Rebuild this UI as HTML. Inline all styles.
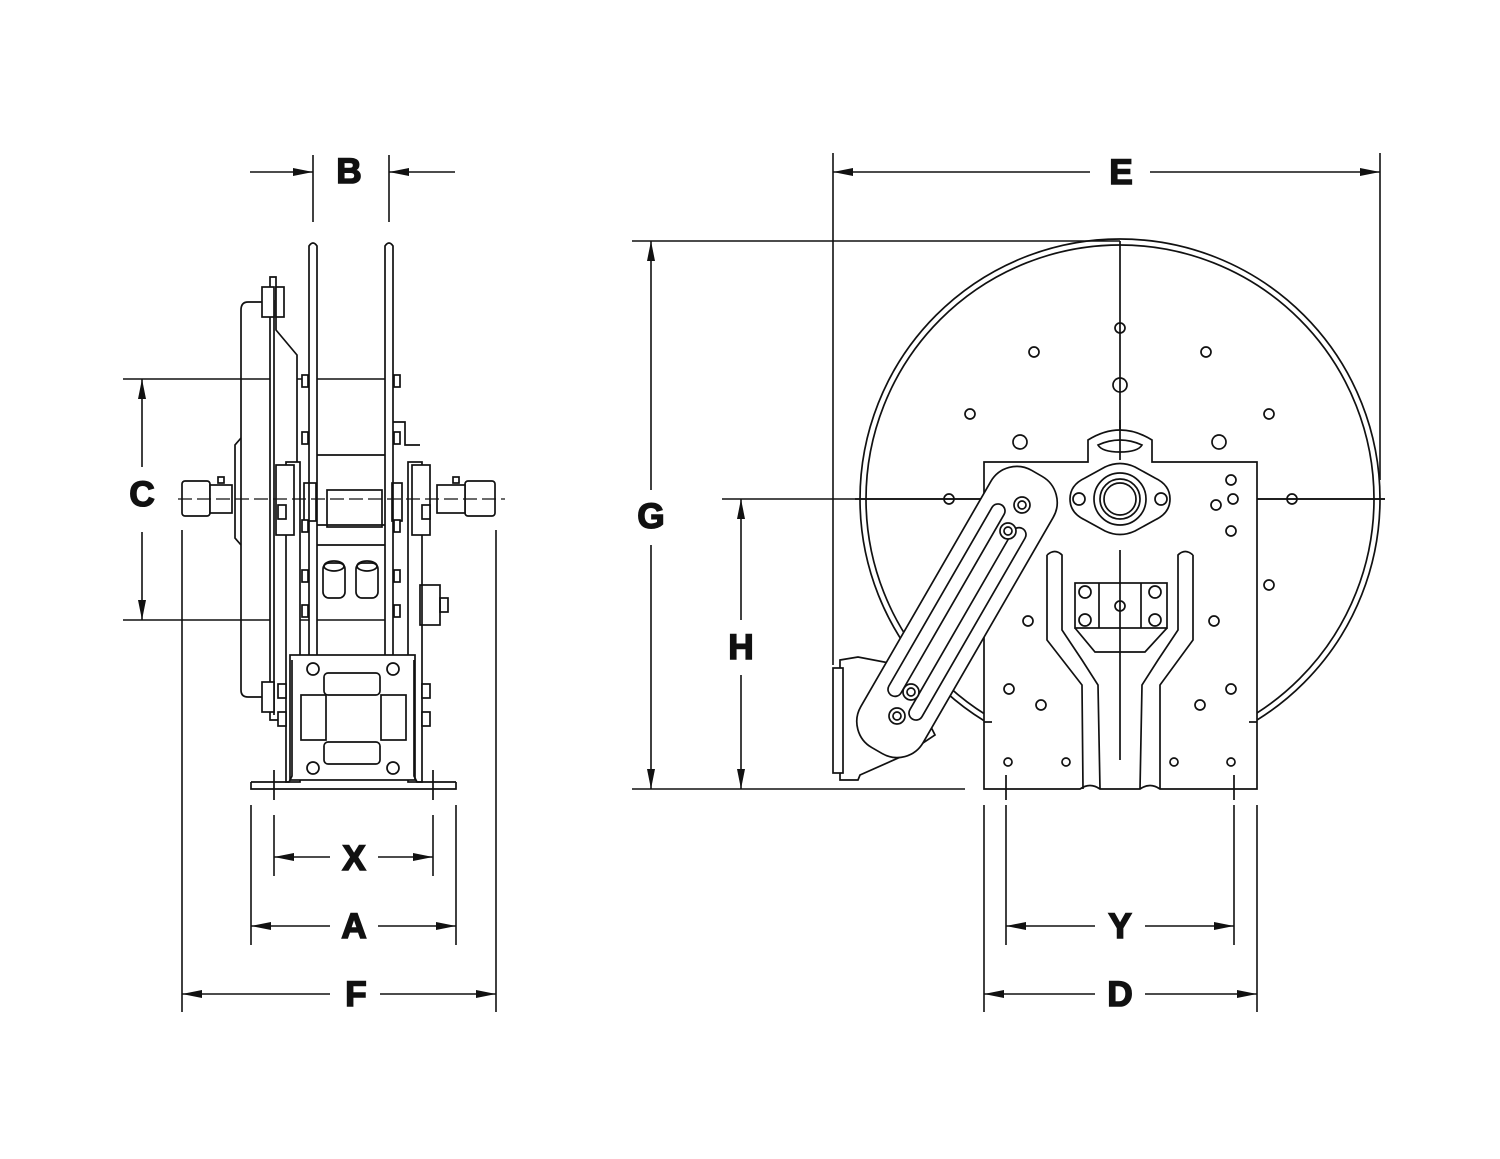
<!DOCTYPE html>
<html><head><style>
html,body{margin:0;padding:0;background:#fff}
svg{display:block}
.l{stroke:#111;stroke-width:1.6;fill:none}
.t{stroke:#111;stroke-width:1.7;fill:none}
.w{fill:#fff;stroke:#111;stroke-width:1.7}
.d{stroke:#111;stroke-width:1.2;fill:none;stroke-dasharray:14 5}
text{font-family:"Liberation Sans",sans-serif;font-weight:bold;font-size:35px;fill:#111;stroke:#111;stroke-width:1.6;text-anchor:middle}
</style></head><body>
<svg width="1500" height="1159" viewBox="0 0 1500 1159" xmlns="http://www.w3.org/2000/svg">
<defs>
<marker id="a" viewBox="0 0 20 10" refX="20" refY="5" markerWidth="20" markerHeight="10" markerUnits="userSpaceOnUse" orient="auto"><path d="M0,1 L20,5 L0,9 z" fill="#111"/></marker>
</defs>

<g class="l">
<line x1="313" y1="155" x2="313" y2="222"/><line x1="389" y1="155" x2="389" y2="222"/>
<line x1="250" y1="172" x2="313" y2="172" marker-end="url(#a)"/>
<line x1="455" y1="172" x2="389" y2="172" marker-end="url(#a)"/>
<line x1="833" y1="153" x2="833" y2="665"/><line x1="1380" y1="153" x2="1380" y2="480"/>
<line x1="1090" y1="172" x2="833" y2="172" marker-end="url(#a)"/>
<line x1="1150" y1="172" x2="1380" y2="172" marker-end="url(#a)"/>
<line x1="632" y1="241" x2="1120" y2="241"/><line x1="632" y1="789" x2="965" y2="789"/>
<line x1="651" y1="490" x2="651" y2="241" marker-end="url(#a)"/>
<line x1="651" y1="545" x2="651" y2="789" marker-end="url(#a)"/>
<line x1="722" y1="499" x2="1385" y2="499"/>
<line x1="741" y1="620" x2="741" y2="499" marker-end="url(#a)"/>
<line x1="741" y1="675" x2="741" y2="789" marker-end="url(#a)"/>
<line x1="123" y1="379" x2="390" y2="379"/><line x1="123" y1="620" x2="390" y2="620"/>
<line x1="142" y1="467" x2="142" y2="379" marker-end="url(#a)"/>
<line x1="142" y1="532" x2="142" y2="620" marker-end="url(#a)"/>
<line x1="274" y1="815" x2="274" y2="876"/><line x1="433" y1="815" x2="433" y2="876"/>
<line x1="330" y1="857" x2="274" y2="857" marker-end="url(#a)"/>
<line x1="378" y1="857" x2="433" y2="857" marker-end="url(#a)"/>
<line x1="251" y1="805" x2="251" y2="945"/><line x1="456" y1="805" x2="456" y2="945"/>
<line x1="330" y1="926" x2="251" y2="926" marker-end="url(#a)"/>
<line x1="378" y1="926" x2="456" y2="926" marker-end="url(#a)"/>
<line x1="182" y1="530" x2="182" y2="1012"/><line x1="496" y1="530" x2="496" y2="1012"/>
<line x1="330" y1="994" x2="182" y2="994" marker-end="url(#a)"/>
<line x1="380" y1="994" x2="496" y2="994" marker-end="url(#a)"/>
<line x1="1006" y1="805" x2="1006" y2="945"/><line x1="1234" y1="805" x2="1234" y2="945"/>
<line x1="1095" y1="926" x2="1006" y2="926" marker-end="url(#a)"/>
<line x1="1145" y1="926" x2="1234" y2="926" marker-end="url(#a)"/>
<line x1="984" y1="805" x2="984" y2="1012"/><line x1="1257" y1="805" x2="1257" y2="1012"/>
<line x1="1095" y1="994" x2="984" y2="994" marker-end="url(#a)"/>
<line x1="1145" y1="994" x2="1257" y2="994" marker-end="url(#a)"/>
</g>
<text x="349" y="183">B</text>
<text x="1121" y="184">E</text>
<text x="651" y="528">G</text>
<text x="741" y="659">H</text>
<text x="142" y="506">C</text>
<text x="354" y="870">X</text>
<text x="354" y="938">A</text>
<text x="356" y="1006">F</text>
<text x="1120" y="938">Y</text>
<text x="1120" y="1006">D</text>

<g class="t">
<path d="M270,302 L248,302 Q241,302 241,310 L241,690 Q241,697 248,697 L270,697"/>
<path d="M241,438 L235,445 L235,538 L241,545"/>
<path class="w" d="M270,277 L276,277 L276,330 L297,355 L297,720 L270,720 Z"/>
<line x1="274" y1="300" x2="274" y2="715"/>
<rect class="w" x="262" y="287" width="12" height="30"/>
<rect class="w" x="276" y="287" width="8" height="30"/>
<rect class="w" x="262" y="682" width="12" height="30"/>
<path class="w" d="M309,660 L309,246 Q313,240 317,246 L317,660 Z"/>
<path class="w" d="M385,660 L385,246 Q389,240 393,246 L393,660 Z"/>
<rect class="w" x="286" y="462" width="14" height="320"/>
<rect class="w" x="408" y="462" width="14" height="320"/>
<rect class="w" x="276" y="465" width="18" height="70"/>
<rect class="w" x="412" y="465" width="18" height="70"/>
<line x1="317" y1="455" x2="385" y2="455"/>
<line x1="317" y1="525" x2="385" y2="525"/>
<line x1="317" y1="545" x2="385" y2="545"/>
<rect x="327" y="490" width="55" height="37"/>
<rect class="w" x="323" y="563" width="22" height="35" rx="6"/>
<rect class="w" x="356" y="563" width="22" height="35" rx="6"/>
<ellipse cx="334" cy="566" rx="10" ry="5"/><ellipse cx="367" cy="566" rx="10" ry="5"/>
<rect x="304" y="483" width="12" height="38"/>
<rect x="392" y="483" width="10" height="38"/>
<path d="M393,422 L405,422 L405,445 L420,445"/>
<rect x="420" y="585" width="20" height="40"/>
<rect x="440" y="598" width="8" height="14"/>
<rect class="w" x="182" y="481" width="28" height="35" rx="3"/>
<rect class="w" x="210" y="485" width="22" height="28"/>
<rect class="w" x="218" y="477" width="6" height="6"/>
<rect class="w" x="465" y="481" width="30" height="35" rx="3"/>
<rect class="w" x="437" y="485" width="28" height="28"/>
<rect class="w" x="453" y="477" width="6" height="6"/>
<g class="w">
<rect x="302" y="375" width="6" height="12"/><rect x="302" y="432" width="6" height="12"/><rect x="302" y="520" width="6" height="12"/><rect x="302" y="570" width="6" height="12"/><rect x="302" y="605" width="6" height="12"/>
<rect x="394" y="375" width="6" height="12"/><rect x="394" y="432" width="6" height="12"/><rect x="394" y="520" width="6" height="12"/><rect x="394" y="570" width="6" height="12"/><rect x="394" y="605" width="6" height="12"/>
<rect x="278" y="505" width="8" height="14"/><rect x="422" y="505" width="8" height="14"/>
<rect x="278" y="684" width="8" height="14"/><rect x="422" y="684" width="8" height="14"/>
<rect x="278" y="712" width="8" height="14"/><rect x="422" y="712" width="8" height="14"/>
</g>
<rect class="w" x="290" y="655" width="125" height="125"/>
<path d="M251,782 L289,782 L292,776 L292,660 M456,782 L417,782 L414,776 L414,660"/>
<path d="M251,782 L251,789 L456,789 L456,782"/>
<rect x="324" y="673" width="56" height="22" rx="4"/>
<rect x="324" y="742" width="56" height="22" rx="4"/>
<rect x="301" y="695" width="25" height="45"/>
<rect x="381" y="695" width="25" height="45"/>
<circle class="w" cx="313" cy="669" r="6"/><circle class="w" cx="393" cy="669" r="6"/>
<circle class="w" cx="313" cy="768" r="6"/><circle class="w" cx="393" cy="768" r="6"/>
<line x1="274" y1="770" x2="274" y2="800"/><line x1="433" y1="770" x2="433" y2="800"/>
</g>
<line class="d" x1="178" y1="499" x2="505" y2="499"/>

<g class="t">
<circle cx="1120" cy="499" r="260"/>
<circle cx="1120" cy="499" r="254"/>
<line x1="1120" y1="241" x2="1120" y2="440"/>
<line x1="855" y1="499" x2="1385" y2="499"/>
<path class="w" d="M984,462 L1088,462 L1088,440 Q1120,420 1152,440 L1152,462 L1257,462 L1257,789 L1160,789 Q1150,782 1140,789 L1100,789 Q1090,782 1080,789 L984,789 Z"/>
<line x1="1120" y1="420" x2="1120" y2="460"/>
<path d="M1098,445 Q1120,435 1142,445 Q1138,452 1120,452 Q1102,452 1098,445 Z"/>
<path class="w" d="M1070,499 Q1070,485 1085,478 L1105,467 Q1120,460 1135,467 L1155,478 Q1170,485 1170,499 Q1170,513 1155,520 L1135,531 Q1120,538 1105,531 L1085,520 Q1070,513 1070,499 Z"/>
<circle cx="1120" cy="499" r="26"/><circle cx="1120" cy="499" r="20"/><circle cx="1120" cy="499" r="16"/>
<circle cx="1079" cy="499" r="6"/><circle cx="1161" cy="499" r="6"/>
<path d="M1047,555 Q1055,548 1062,555 L1062,630 L1082,660 L1098,685 L1100,789 M1047,555 L1047,640 L1082,685 L1083,789 M1193,555 Q1185,548 1178,555 L1178,630 L1158,660 L1142,685 L1140,789 M1193,555 L1193,640 L1160,685 L1160,789"/>
<rect class="w" x="1075" y="583" width="92" height="45"/>
<line x1="1099" y1="583" x2="1099" y2="628"/><line x1="1141" y1="583" x2="1141" y2="628"/>
<path d="M1075,628 L1095,652 L1145,652 L1167,628"/>
<line x1="1120" y1="550" x2="1120" y2="760"/>
<circle cx="1120" cy="606" r="5"/>
<circle cx="1085" cy="592" r="6"/><circle cx="1085" cy="620" r="6"/><circle cx="1155" cy="592" r="6"/><circle cx="1155" cy="620" r="6"/>
<circle cx="1120" cy="328" r="5"/><circle cx="1034" cy="352" r="5"/><circle cx="1206" cy="352" r="5"/>
<circle cx="970" cy="414" r="5"/><circle cx="1269" cy="414" r="5"/>
<circle cx="1120" cy="385" r="7"/><circle cx="1020" cy="442" r="7"/><circle cx="1219" cy="442" r="7"/>
<circle cx="949" cy="499" r="5"/><circle cx="1292" cy="499" r="5"/><circle cx="1269" cy="585" r="5"/>
<circle cx="1231" cy="480" r="5"/><circle cx="1233" cy="499" r="5"/><circle cx="1216" cy="505" r="5"/><circle cx="1231" cy="531" r="5"/>
<circle cx="1028" cy="621" r="5"/><circle cx="1214" cy="621" r="5"/>
<circle cx="1009" cy="689" r="5"/><circle cx="1041" cy="705" r="5"/><circle cx="1200" cy="705" r="5"/><circle cx="1231" cy="689" r="5"/>
<circle cx="1008" cy="762" r="4"/><circle cx="1066" cy="762" r="4"/><circle cx="1174" cy="762" r="4"/><circle cx="1231" cy="762" r="4"/>
<line x1="1006" y1="775" x2="1006" y2="800"/><line x1="1234" y1="775" x2="1234" y2="800"/>
<line x1="984" y1="722" x2="992" y2="722"/><line x1="1257" y1="722" x2="1249" y2="722"/>
<path class="w" d="M840,660 L858,657 L900,665 L935,735 L905,755 L860,775 L858,780 L840,780 Z"/>
<rect class="w" x="833" y="668" width="10" height="105"/>
<g transform="translate(957,612) rotate(-60)">
<rect class="w" x="-160" y="-36" width="320" height="72" rx="30"/>
<rect x="-105" y="-22" width="220" height="14" rx="7"/>
<rect x="-115" y="8" width="220" height="14" rx="7"/>
</g>
<circle class="w" cx="1022" cy="505" r="8"/><circle cx="1022" cy="505" r="4"/>
<circle class="w" cx="1008" cy="531" r="8"/><circle cx="1008" cy="531" r="4"/>
<circle class="w" cx="911" cy="692" r="8"/><circle cx="911" cy="692" r="4"/>
<circle class="w" cx="897" cy="716" r="8"/><circle cx="897" cy="716" r="4"/>
</g>
</svg>
</body></html>
